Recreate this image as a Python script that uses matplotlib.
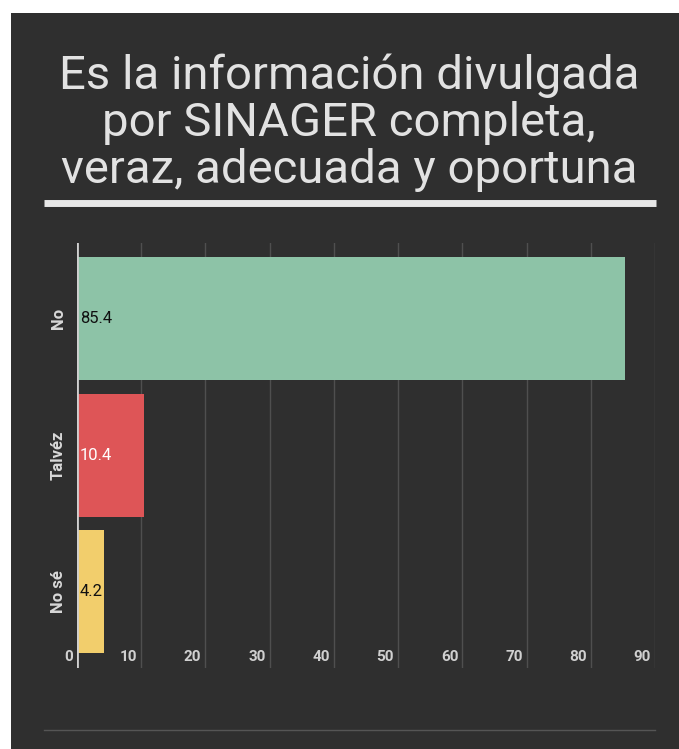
import numpy as np
import matplotlib.pyplot as plt
from matplotlib.patches import Rectangle
from matplotlib.lines import Line2D
from matplotlib.transforms import ScaledTranslation

# data
categories = ['No', 'Talvéz', 'No sé']
values = [85.4, 10.4, 4.2]
bar_colors = ['#8DC3A7', '#DE5557', '#F2CE6C']
label_colors = ['#111111', '#FFFFFF', '#111111']
xticks = [0, 10, 20, 30, 40, 50, 60, 70, 80, 90]
title = 'Es la información divulgada\npor SINAGER completa,\nveraz, adecuada y oportuna'

W, H = 679, 749
bg = '#2F2F2F'

fig = plt.figure(figsize=(W / 100, H / 100), dpi=100)
fig.patch.set_facecolor('white')

# dark card behind everything
fig.patches.append(Rectangle((11 / W, 0), 1 - 11 / W, 1 - 13 / H, transform=fig.transFigure,
                             facecolor=bg, edgecolor='none', zorder=-10))

fig.text(349 / W, 1 - 123 / H, title, ha='center', va='center', fontsize=34,
         family='Roboto', color='#E2E2E2', linespacing=1.08)
fig.lines.append(Line2D([44 / W, 656 / W], [1 - 202.5 / H, 1 - 202.5 / H], transform=fig.transFigure,
                        color='#E8E8E8', lw=5, solid_capstyle='butt'))
fig.lines.append(Line2D([44 / W, 655 / W], [1 - 730 / H, 1 - 730 / H], transform=fig.transFigure,
                        color='#555555', lw=1))

ax = fig.add_axes([77 / W, 1 - 668 / H, (655 - 77) / W, (668 - 243) / H])
ax.set_facecolor(bg)

y = np.arange(len(categories))
ax.barh(y, values, height=0.9, color=bar_colors, zorder=2)
ax.set_xlim(0, 90)
ax.set_ylim(2.558, -0.551)

for i, v in enumerate(values):
    ax.text(0.45, y[i], f'{v}', ha='left', va='center', fontsize=12, family='Roboto',
            color=label_colors[i], zorder=3)

for s in ax.spines.values():
    s.set_visible(False)
ax.axvline(0, color='#D0D0D0', lw=2, zorder=4)
for t in xticks[1:]:
    ax.axvline(t, color='#4F4F4F', lw=1, zorder=1)

ax.set_xticks([])
ax.set_yticks(y)
ax.set_yticklabels(categories, rotation=90, va='center', fontsize=12, family='Roboto',
                   fontweight='bold', color='#D8D8D8')
ax.tick_params(axis='y', length=0, pad=8)

off = ScaledTranslation(-4 / 100, 0, fig.dpi_scale_trans)
for t in xticks:
    ax.text(t, 0.027, str(t), transform=ax.get_xaxis_transform() + off, ha='right', va='center',
            fontsize=11, family='Roboto', fontweight='bold', color='#D0D0D0')

fig.savefig('out.png', dpi=100, facecolor=fig.get_facecolor())
